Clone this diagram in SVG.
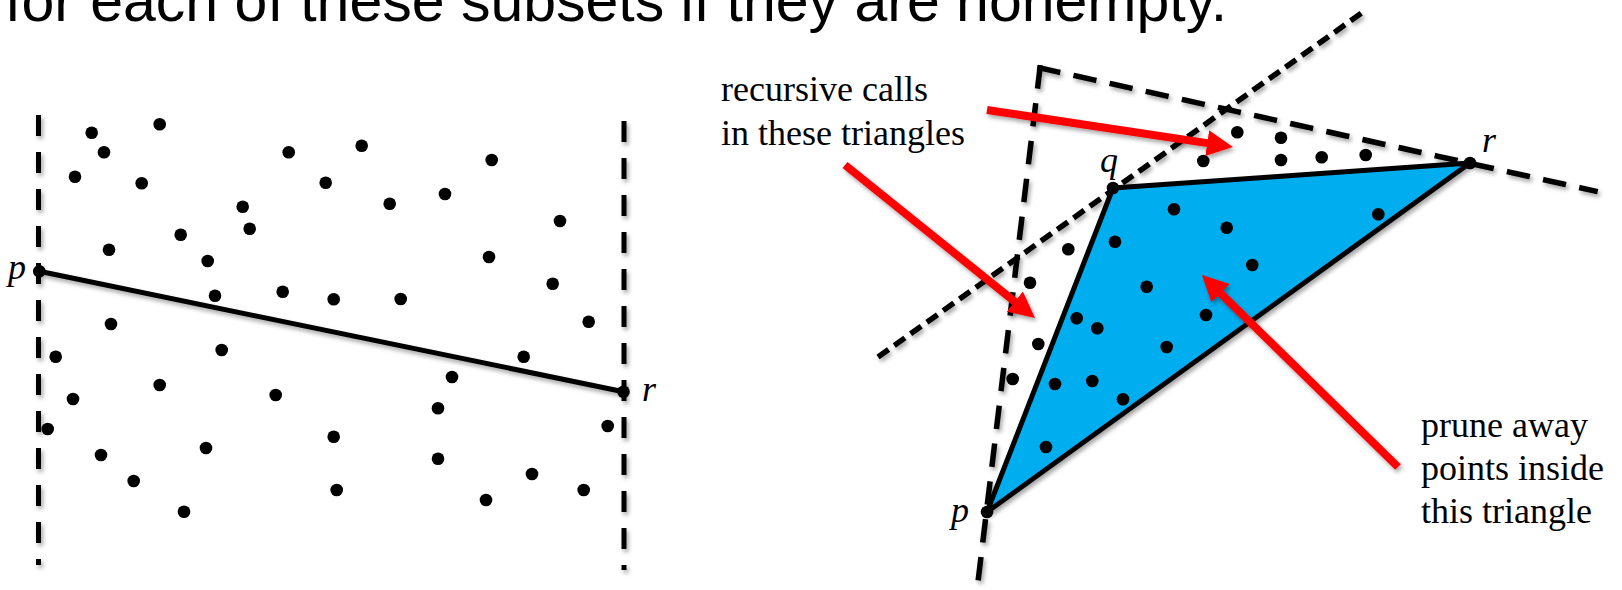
<svg xmlns="http://www.w3.org/2000/svg" width="1622" height="590" viewBox="0 0 1622 590">
<defs>
<filter id="sh" filterUnits="userSpaceOnUse" x="0" y="0" width="1622" height="590">
<feDropShadow dx="2" dy="3" stdDeviation="2.2" flood-color="#000" flood-opacity="0.35"/>
</filter>
<marker id="ah" viewBox="0 0 26 26" refX="2" refY="13" markerWidth="26" markerHeight="26" markerUnits="userSpaceOnUse" orient="auto">
<path d="M0,0 L26,13 L0,26 z" fill="#ff0000"/>
</marker>
</defs>
<style>
.title{font-family:"Liberation Sans",Arial,sans-serif;font-size:59px;fill:#000}
.lbl{font-family:"Liberation Serif","Times New Roman",serif;font-size:36px;fill:#000}
.var{font-family:"Liberation Serif","Times New Roman",serif;font-style:italic;font-size:36px;fill:#000}
.dash{fill:none;stroke:#000;stroke-width:5;stroke-dasharray:21 16}
.dash2{fill:none;stroke:#000;stroke-width:5.5;stroke-dasharray:18 19;stroke-linecap:square}
.dash3{fill:none;stroke:#000;stroke-width:5.5;stroke-dasharray:13 7}
.solid{fill:none;stroke:#000;stroke-width:5}
.dot{fill:#000}
.arrow{fill:none;stroke:#ff0000;stroke-width:8;marker-end:url(#ah)}
</style>
<rect width="1622" height="590" fill="#fff"/>
<g id="title">
<text class="title" x="5" y="21">for each of these subsets if they are nonempty.</text>
</g>
<g id="left-panel">
<g filter="url(#sh)">
<line class="dash" x1="38.5" y1="115" x2="38.5" y2="565"/>
<line class="dash" x1="624" y1="121" x2="624" y2="570"/>
<line class="solid" x1="39.3" y1="271.3" x2="623.5" y2="391.7"/>
</g>
<g id="left-points" class="dot">
<circle cx="91.7" cy="132.7" r="6.3"/><circle cx="159.7" cy="124.3" r="6.3"/><circle cx="104" cy="152.3" r="6.3"/>
<circle cx="75" cy="176.7" r="6.3"/><circle cx="141.7" cy="183.3" r="6.3"/><circle cx="288.7" cy="152.3" r="6.3"/>
<circle cx="325.7" cy="182.7" r="6.3"/><circle cx="242.7" cy="206.7" r="6.3"/><circle cx="249.7" cy="228.7" r="6.3"/>
<circle cx="180.7" cy="234.7" r="6.3"/><circle cx="109" cy="249.7" r="6.3"/><circle cx="207.7" cy="261" r="6.3"/>
<circle cx="215" cy="295.7" r="6.3"/><circle cx="282.7" cy="291.7" r="6.3"/><circle cx="333.7" cy="299.3" r="6.3"/>
<circle cx="111" cy="324" r="6.3"/><circle cx="361.7" cy="145.7" r="6.3"/><circle cx="491.7" cy="160" r="6.3"/>
<circle cx="389.7" cy="203.7" r="6.3"/><circle cx="445" cy="194" r="6.3"/><circle cx="560" cy="221" r="6.3"/>
<circle cx="489" cy="257" r="6.3"/><circle cx="552.7" cy="283.7" r="6.3"/><circle cx="400.7" cy="299" r="6.3"/>
<circle cx="588.7" cy="321.7" r="6.3"/><circle cx="55.7" cy="356.7" r="6.3"/><circle cx="221.7" cy="350" r="6.3"/>
<circle cx="159.7" cy="385" r="6.3"/><circle cx="275.7" cy="395" r="6.3"/><circle cx="73" cy="399" r="6.3"/>
<circle cx="47.7" cy="429" r="6.3"/><circle cx="101" cy="455" r="6.3"/><circle cx="206" cy="448" r="6.3"/>
<circle cx="133.7" cy="481" r="6.3"/><circle cx="184" cy="511.7" r="6.3"/><circle cx="523.7" cy="356.7" r="6.3"/>
<circle cx="452" cy="377" r="6.3"/><circle cx="438" cy="408.3" r="6.3"/><circle cx="607.7" cy="426" r="6.3"/>
<circle cx="333.7" cy="436.7" r="6.3"/><circle cx="438" cy="458.7" r="6.3"/><circle cx="532" cy="474" r="6.3"/>
<circle cx="336.7" cy="490" r="6.3"/><circle cx="486" cy="500" r="6.3"/><circle cx="583.7" cy="490" r="6.3"/>
<circle cx="39.3" cy="271.3" r="6.3"/><circle cx="623.5" cy="391.7" r="6.3"/>
</g>
<text class="var" x="8" y="279">p</text>
<text class="var" x="642" y="401">r</text>
</g>
<g id="right-panel">
<g filter="url(#sh)">
<path class="dash2" d="M1040,68 L1595,191"/>
<path class="dash2" d="M1040,68 L978.2,580" style="stroke-dasharray:18 20.1"/>
<path class="dash3" d="M878,357 L1363,12"/>
<polygon points="987,512 1113,188 1470,163" fill="#00aeef" stroke="#000" stroke-width="5" stroke-linejoin="round"/>
</g>
<g id="right-points" class="dot">
<circle cx="1237.3" cy="132.3" r="6.3"/><circle cx="1203.3" cy="161" r="6.3"/><circle cx="1281" cy="137.7" r="6.3"/>
<circle cx="1281" cy="160" r="6.3"/><circle cx="1321.7" cy="157.3" r="6.3"/><circle cx="1365.7" cy="155" r="6.3"/>
<circle cx="1068.3" cy="249.3" r="6.3"/><circle cx="1030" cy="282.7" r="6.3"/><circle cx="1115" cy="241.7" r="6.3"/>
<circle cx="1174" cy="209.3" r="6.3"/><circle cx="1226.7" cy="227.7" r="6.3"/><circle cx="1252.3" cy="265" r="6.3"/>
<circle cx="1146.7" cy="286.7" r="6.3"/><circle cx="1206" cy="315" r="6.3"/><circle cx="1076.7" cy="318.3" r="6.3"/>
<circle cx="1097.3" cy="328.3" r="6.3"/><circle cx="1038.3" cy="344" r="6.3"/><circle cx="1166.7" cy="347" r="6.3"/>
<circle cx="1012.7" cy="379" r="6.3"/><circle cx="1055" cy="384" r="6.3"/><circle cx="1092.3" cy="381" r="6.3"/>
<circle cx="1123" cy="399.3" r="6.3"/><circle cx="1046" cy="447" r="6.3"/><circle cx="1378.3" cy="214.3" r="6.3"/>
<circle cx="987" cy="512" r="6.3"/><circle cx="1113" cy="188" r="6.3"/><circle cx="1470" cy="163" r="6.3"/>
</g>
<text class="var" x="1100" y="172">q</text>
<text class="var" x="1482" y="152">r</text>
<text class="var" x="951" y="522">p</text>
<text class="lbl" x="721" y="101">recursive calls</text>
<text class="lbl" x="721" y="145">in these triangles</text>
<text class="lbl" x="1421" y="437">prune away</text>
<text class="lbl" x="1421" y="480">points inside</text>
<text class="lbl" x="1421" y="523">this triangle</text>
</g>
<g id="connectors" filter="url(#sh)">
<line class="arrow" x1="987" y1="110" x2="1209.2" y2="143.4"/>
<line class="arrow" x1="845" y1="165" x2="1016.3" y2="302.9"/>
<line class="arrow" x1="1398" y1="467" x2="1219.1" y2="291.8"/>
</g>
</svg>
